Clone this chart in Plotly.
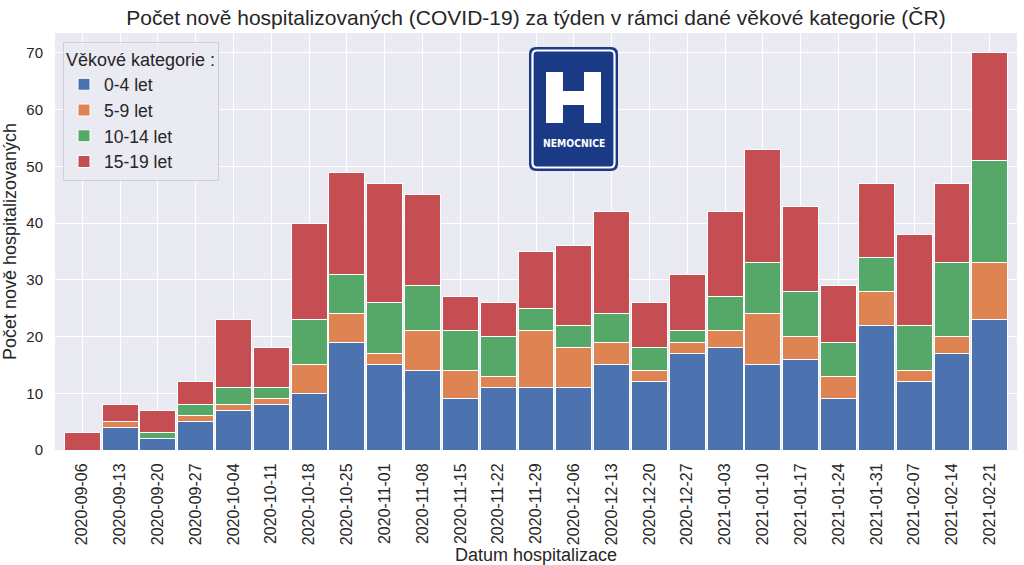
import plotly.graph_objects as go

dates = ["2020-09-06", "2020-09-13", "2020-09-20", "2020-09-27", "2020-10-04", "2020-10-11",
         "2020-10-18", "2020-10-25", "2020-11-01", "2020-11-08", "2020-11-15", "2020-11-22",
         "2020-11-29", "2020-12-06", "2020-12-13", "2020-12-20", "2020-12-27", "2021-01-03",
         "2021-01-10", "2021-01-17", "2021-01-24", "2021-01-31", "2021-02-07", "2021-02-14",
         "2021-02-21"]
age_0_4 = [0, 4, 2, 5, 7, 8, 10, 19, 15, 14, 9, 11, 11, 11, 15, 12, 17, 18, 15, 16, 9, 22, 12, 17, 23]
age_5_9 = [0, 1, 0, 1, 1, 1, 5, 5, 2, 7, 5, 2, 10, 7, 4, 2, 2, 3, 9, 4, 4, 6, 2, 3, 10]
age_10_14 = [0, 0, 1, 2, 3, 2, 8, 7, 9, 8, 7, 7, 4, 4, 5, 4, 2, 6, 9, 8, 6, 6, 8, 13, 18]
age_15_19 = [3, 3, 4, 4, 12, 7, 17, 18, 21, 16, 6, 6, 10, 14, 18, 8, 10, 15, 20, 15, 10, 13, 16, 14, 19]
series_names = ["0-4 let", "5-9 let", "10-14 let", "15-19 let"]
series_colors = ["#4C72B0", "#DD8452", "#55A868", "#C44E52"]
yticks = [0, 10, 20, 30, 40, 50, 60, 70]

FONT = "Liberation Sans, Arial, sans-serif"
TXT = "#262626"

fig = go.Figure()
for i, (name, vals, col) in enumerate(zip(series_names, [age_0_4, age_5_9, age_10_14, age_15_19], series_colors)):
    fig.add_trace(go.Bar(x=dates, y=vals, name=name, legendgroup=str(i),
                         marker=dict(color=col, line=dict(color="white", width=1))))

# plot area in pixels
L, R, T, B = 55, 1017, 33, 450
W, H = 1024, 565

def px(x):
    return (x - L) / (R - L)

def py(y):
    return (B - y) / (B - T)

def rounded_path(x0, y0, x1, y1, r):
    pts = [
        ("M", [(x0 + r, y0)]),
        ("L", [(x1 - r, y0)]),
        ("Q", [(x1, y0), (x1, y0 + r)]),
        ("L", [(x1, y1 - r)]),
        ("Q", [(x1, y1), (x1 - r, y1)]),
        ("L", [(x0 + r, y1)]),
        ("Q", [(x0, y1), (x0, y1 - r)]),
        ("L", [(x0, y0 + r)]),
        ("Q", [(x0, y0), (x0 + r, y0)]),
    ]
    s = ""
    for cmd, ps in pts:
        s += cmd + " " + " ".join(f"{px(a):.5f},{py(b):.5f}" for a, b in ps) + " "
    return s + "Z"

def poly_path(points):
    return "M " + " L ".join(f"{px(a):.5f},{py(b):.5f}" for a, b in points) + " Z"

shapes = []
# hospital sign logo
shapes.append(dict(type="path", xref="paper", yref="paper", path=rounded_path(529, 47, 618, 171, 7),
                   fillcolor="#1B3A85", line=dict(width=0), layer="above"))
shapes.append(dict(type="path", xref="paper", yref="paper", path=rounded_path(532.5, 50.5, 614.5, 167.5, 4.5),
                   fillcolor="rgba(0,0,0,0)", line=dict(color="white", width=2.2), layer="above"))
hx0, hx1, hy0, hy1 = 546, 601, 72, 123
sw = 17
cb0, cb1 = 91, 105
shapes.append(dict(type="path", xref="paper", yref="paper", layer="above",
                   path=poly_path([(hx0, hy0), (hx0 + sw, hy0), (hx0 + sw, cb0), (hx1 - sw, cb0), (hx1 - sw, hy0),
                                   (hx1, hy0), (hx1, hy1), (hx1 - sw, hy1), (hx1 - sw, cb1), (hx0 + sw, cb1),
                                   (hx0 + sw, hy1), (hx0, hy1)]),
                   fillcolor="white", line=dict(width=0)))

annotations = [dict(text="<b>NEMOCNICE</b>", x=px(574), y=py(143), xref="paper", yref="paper",
                    showarrow=False,
                    font=dict(family="DejaVu Sans Condensed, sans-serif", size=10.3, color="white"),
                    xanchor="center", yanchor="middle")]

fig.update_layout(
    width=W, height=H,
    margin=dict(l=L, r=W - R, t=T, b=H - B),
    barmode="stack", bargap=0.05,
    paper_bgcolor="white", plot_bgcolor="#EAEAF2",
    font=dict(family=FONT, color=TXT),
    title=dict(text="Počet nově hospitalizovaných (COVID-19) za týden v rámci dané věkové kategorie (ČR)",
               xref="paper", x=0.5, xanchor="center", y=1 - 18 / H, yanchor="middle",
               font=dict(size=21, color=TXT, family=FONT)),
    xaxis=dict(type="category", range=[-0.72, 24.72], tickangle=-90, showgrid=True, gridcolor="white",
               gridwidth=1.2, tickfont=dict(size=16, color=TXT), ticks="outside", ticklen=6,
               tickcolor="rgba(0,0,0,0)", zeroline=False, showline=False, automargin=False,
               title=dict(text="Datum hospitalizace", font=dict(size=18, color=TXT), standoff=2)),
    yaxis=dict(range=[0, 73.5], tickvals=yticks, showgrid=True, gridcolor="white", gridwidth=1.2,
               tickfont=dict(size=15, color=TXT), ticks="outside", ticklen=8, tickcolor="rgba(0,0,0,0)",
               zeroline=False, showline=False, automargin=False,
               title=dict(text="Počet nově hospitalizovaných", font=dict(size=18, color=TXT), standoff=6)),
    legend=dict(x=px(63), y=py(42), xanchor="left", yanchor="top",
                bgcolor="rgba(234,234,242,0.85)", bordercolor="#CFCFD6", borderwidth=1,
                font=dict(size=17.5, color=TXT), tracegroupgap=3, traceorder="normal",
                title=dict(text="Věkové kategorie :", font=dict(size=18, color=TXT))),
    shapes=shapes, annotations=annotations,
)

fig.write_html("out.html", config={"displayModeBar": False},
               post_script="document.body.style.margin='0px';")
